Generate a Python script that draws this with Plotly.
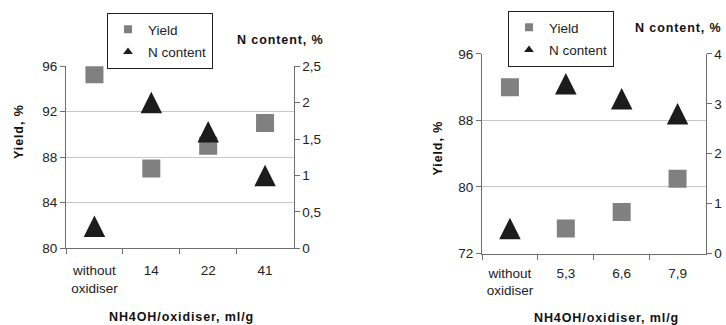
import plotly.graph_objects as go

# ---------------- data ----------------
categories_a = ["without oxidiser", "14", "22", "41"]
tick_labels_a = ["without<br>oxidiser", "14", "22", "41"]
yield_a = [95.3, 87.0, 89.0, 91.0]
n_content_a = [0.3, 2.0, 1.6, 1.0]

categories_b = ["without oxidiser", "5,3", "6,6", "7,9"]
tick_labels_b = ["without<br>oxidiser", "5,3", "6,6", "7,9"]
yield_b = [92.0, 75.0, 77.0, 81.0]
n_content_b = [0.5, 3.4, 3.1, 2.8]

yield_ticks_a = [80, 84, 88, 92, 96]
n_ticks_a = [0, 0.5, 1, 1.5, 2, 2.5]
n_tick_labels_a = ["0", "0,5", "1", "1,5", "2", "2,5"]

yield_ticks_b = [72, 80, 88, 96]
n_ticks_b = [0, 1, 2, 3, 4]
n_tick_labels_b = ["0", "1", "2", "3", "4"]

series_names = ["Yield", "N content"]
y_title = "Yield, %"
y2_title = "N content, %"
x_title = "NH4OH/oxidiser, ml/g"

# ---------------- style ----------------
W, H = 726, 325
FONT = "Arial, Liberation Sans, sans-serif"
GRAY = "#808080"
BLACK = "#1c1c1c"
AXIS = "#6e6e6e"
GRID = "#c8c8c8"
TXT = "#222222"


def px(x):
    return x / W


def py(y):
    return 1 - y / H


tickfont = dict(family=FONT, size=13.5, color=TXT)

fig = go.Figure()

tri = dict(symbol="arrow-down", angle=180, standoff=10.75, size=21.5, color=BLACK,
           line=dict(width=0))
sq = dict(symbol="square", size=18, color=GRAY, line=dict(width=0))

# left chart
fig.add_trace(go.Scatter(x=categories_a, y=yield_a, mode="markers", marker=sq,
                         xaxis="x", yaxis="y", showlegend=False, name=series_names[0]))
fig.add_trace(go.Scatter(x=categories_a, y=n_content_a, mode="markers", marker=tri,
                         xaxis="x", yaxis="y2", showlegend=False, name=series_names[1]))
# right chart
fig.add_trace(go.Scatter(x=categories_b, y=yield_b, mode="markers", marker=sq,
                         xaxis="x2", yaxis="y3", showlegend=False, name=series_names[0]))
fig.add_trace(go.Scatter(x=categories_b, y=n_content_b, mode="markers", marker=tri,
                         xaxis="x2", yaxis="y4", showlegend=False, name=series_names[1]))

# legend entries
leg_sq = dict(symbol="square", size=8, color=GRAY, line=dict(width=0))
leg_tri = dict(symbol="triangle-up", size=8.5, color=BLACK, line=dict(width=0))
for lg, xa, ya in (("legend", "x", "y"), ("legend2", "x2", "y3")):
    fig.add_trace(go.Scatter(x=[None], y=[None], mode="markers", marker=leg_sq,
                             name=series_names[0], legend=lg, legendgroup=lg + "a",
                             xaxis=xa, yaxis=ya))
    fig.add_trace(go.Scatter(x=[None], y=[None], mode="markers", marker=leg_tri,
                             name=series_names[1], legend=lg, legendgroup=lg + "b",
                             xaxis=xa, yaxis=ya))

xcommon = dict(type="category", range=[-0.5, 3.5], tickson="boundaries",
               ticks="outside", ticklen=5, tickcolor=AXIS, showline=True,
               linecolor=AXIS, linewidth=1, showgrid=False, zeroline=False,
               tickfont=tickfont, tickmode="array", automargin=False, tickangle=0)
ycommon = dict(ticks="outside", ticklen=5, tickcolor=AXIS, showline=True,
               linecolor=AXIS, linewidth=1, zeroline=False, tickfont=tickfont,
               tickmode="array", automargin=False)

dom_xa = [px(66), px(293.5)]
dom_ya = [py(248.2), py(66.2)]
dom_xb = [px(482), px(705.5)]
dom_yb = [py(253.5), py(53.9)]

fig.update_layout(
    width=W, height=H,
    margin=dict(l=0, r=0, t=0, b=0),
    paper_bgcolor="white", plot_bgcolor="white",
    font=dict(family=FONT, color=TXT),
    xaxis=dict(xcommon, domain=dom_xa, anchor="y", tickvals=categories_a,
               ticktext=tick_labels_a, ticklabelstandoff=10),
    yaxis=dict(ycommon, domain=dom_ya, anchor="x", range=[80, 96],
               tickvals=yield_ticks_a, showgrid=True, gridcolor=GRID),
    yaxis2=dict(ycommon, overlaying="y", side="right", anchor="x", range=[0, 2.5],
                tickvals=n_ticks_a, ticktext=n_tick_labels_a, showgrid=False),
    xaxis2=dict(xcommon, domain=dom_xb, anchor="y3", tickvals=categories_b,
                ticktext=tick_labels_b, ticklabelstandoff=7),
    yaxis3=dict(ycommon, domain=dom_yb, anchor="x2", range=[72, 96],
                tickvals=yield_ticks_b, showgrid=True, gridcolor=GRID),
    yaxis4=dict(ycommon, overlaying="y3", side="right", anchor="x2", range=[0, 4],
                tickvals=n_ticks_b, ticktext=n_tick_labels_b, showgrid=False),
    legend=dict(x=px(107), y=py(13), xanchor="left", yanchor="top",
                bordercolor="#222222", borderwidth=1, bgcolor="white",
                font=dict(family=FONT, size=13.5, color=TXT), tracegroupgap=2),
    legend2=dict(x=px(508), y=py(11), xanchor="left", yanchor="top",
                 bordercolor="#222222", borderwidth=1, bgcolor="white",
                 font=dict(family=FONT, size=13.5, color=TXT), tracegroupgap=2),
    showlegend=True,
)

title_font = dict(family=FONT, size=12.5, color="#111111")


def label(text, x, y, angle=0):
    fig.add_annotation(
        text='<b><span style="letter-spacing:0.9px">' + text + '</span></b>',
        x=px(x), y=py(y), xref="paper", yref="paper", xanchor="center",
        yanchor="middle", showarrow=False, textangle=angle, font=title_font)


label(y_title, 18.5, 131.5, -90)
label(y2_title, 280.5, 40)
label(x_title, 181.7, 316.5)
label(y_title, 437.5, 148, -90)
label(y2_title, 678, 28)
label(x_title, 606.7, 318)

fig.write_html("out.html", config={"displayModeBar": False},
               post_script="document.body.style.margin='0px';")
